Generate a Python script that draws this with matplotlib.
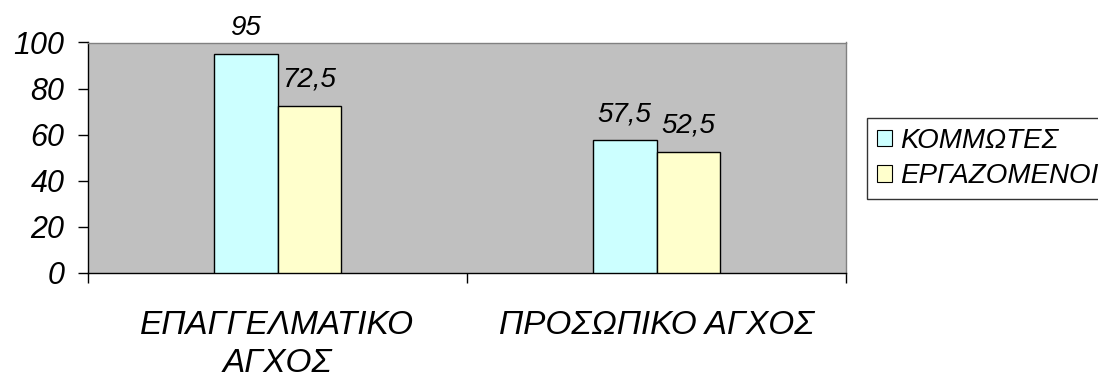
import matplotlib
matplotlib.use("Agg")
import matplotlib.pyplot as plt
import numpy as np

# Data
categories = ["ΕΠΑΓΓΕΛΜΑΤΙΚΟ\nΑΓΧΟΣ", "ΠΡΟΣΩΠΙΚΟ ΑΓΧΟΣ"]
series_names = ["ΚΟΜΜΩΤΕΣ", "ΕΡΓΑΖΟΜΕΝΟΙ"]
kommotes = [95, 57.5]
ergazomenoi = [72.5, 52.5]
y_ticks = [0, 20, 40, 60, 80, 100]

colors = ["#CCFFFF", "#FFFFCC"]

plt.rcParams["font.family"] = ["Liberation Sans", "DejaVu Sans"]
plt.rcParams["font.style"] = "italic"

fig = plt.figure(figsize=(10.98, 3.75), dpi=100)
ax = fig.add_axes([88 / 1098, 1 - 273 / 375, (846 - 88) / 1098, (273 - 42.5) / 375])
ax.set_facecolor("#C0C0C0")

x = np.arange(len(categories))
w = 0.168

def fmt(v):
    s = f"{v:g}"
    return s.replace(".", ",")

for i, (vals, col) in enumerate(zip([kommotes, ergazomenoi], colors)):
    pos = x + (i - 0.5) * w
    ax.bar(pos, vals, width=w, color=col, edgecolor="black", linewidth=1.0,
           label=series_names[i], zorder=3)
    for px, v in zip(pos, vals):
        ax.annotate(fmt(v), xy=(px, v), xytext=(0, 14), textcoords="offset points",
                    ha="center", va="baseline", fontsize=20, fontstyle="italic",
                    annotation_clip=False)

ax.set_xlim(-0.5, 1.5)
ax.set_ylim(0, 100)
ax.set_yticks(y_ticks)
ax.set_yticklabels([str(t) for t in y_ticks], fontsize=22, fontstyle="italic")
ax.tick_params(axis="y", direction="out", length=7, width=1, pad=10)

# category boundaries as major ticks, category names as minor ticks
ax.set_xticks([-0.5, 0.5, 1.5])
ax.set_xticklabels([])
ax.tick_params(axis="x", which="major", direction="out", length=7, width=1)
ax.set_xticks(x, minor=True)
ax.set_xticklabels(categories, minor=True, fontsize=24, fontstyle="italic",
                   linespacing=1.27)
ax.tick_params(axis="x", which="minor", length=0, pad=27)

for s in ["left", "bottom"]:
    ax.spines[s].set_color("black")
    ax.spines[s].set_linewidth(1)
for s in ["top", "right"]:
    ax.spines[s].set_color("#808080")
    ax.spines[s].set_linewidth(1)

leg = fig.legend(loc="upper left", bbox_to_anchor=(867 / 1098, 1 - 118 / 375),
                 fontsize=20, frameon=True, fancybox=False, shadow=False,
                 handlelength=0.55, handleheight=0.55, handletextpad=0.3,
                 labelspacing=0.35, borderpad=0.35, borderaxespad=0)
leg.get_frame().set_edgecolor("black")
leg.get_frame().set_linewidth(1)
for t in leg.get_texts():
    t.set_fontstyle("italic")
for h in leg.legend_handles:
    h.set_edgecolor("black")
    h.set_linewidth(0.8)

fig.savefig("out.png", dpi=100)
